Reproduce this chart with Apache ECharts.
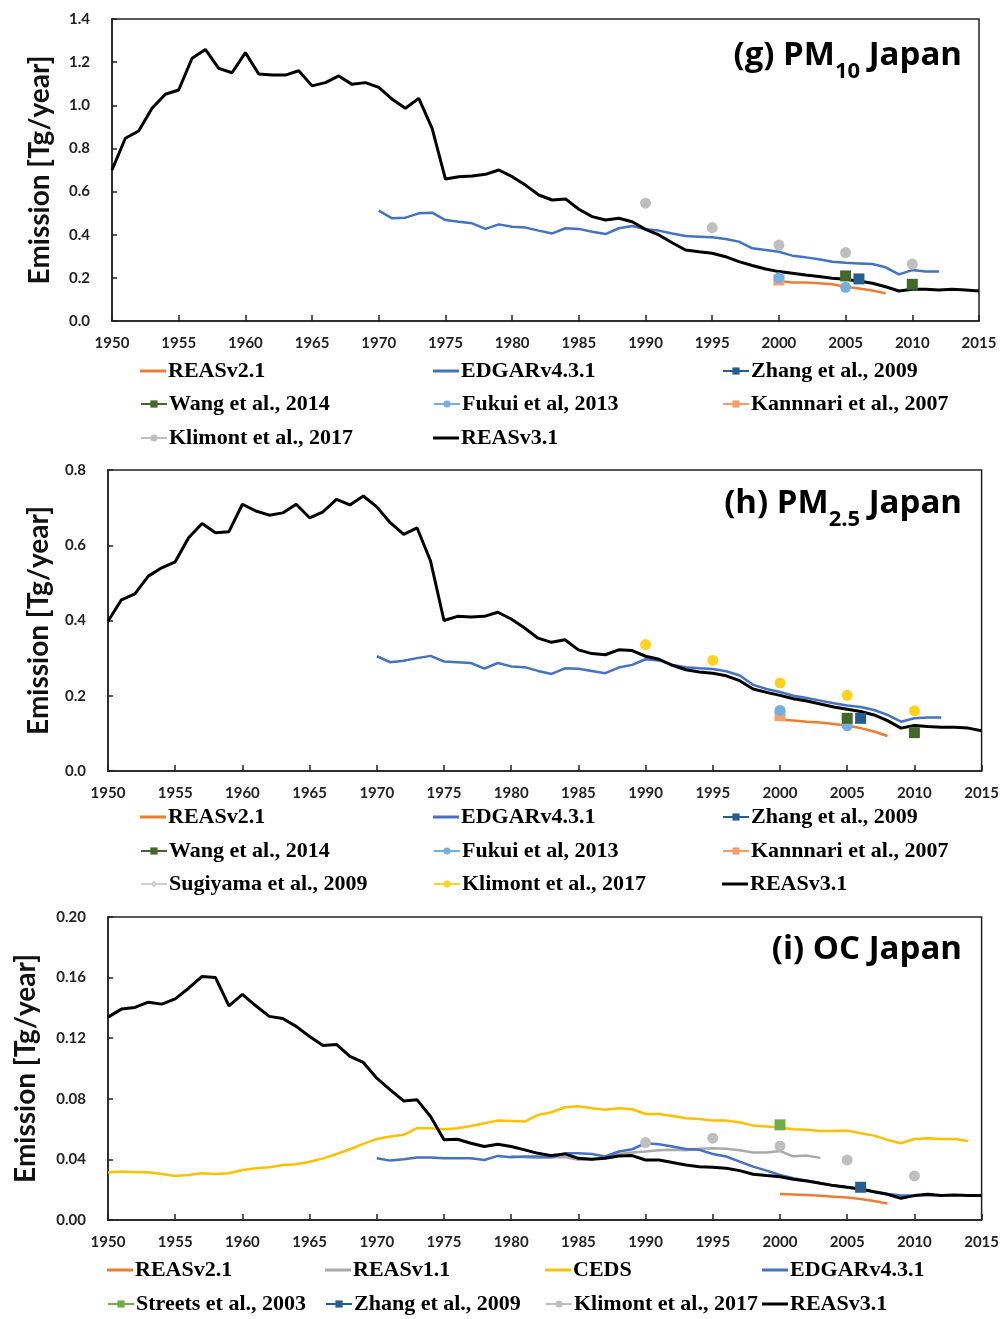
<!DOCTYPE html>
<html>
<head>
<meta charset="utf-8">
<script src="https://cdn.jsdelivr.net/npm/echarts@6/dist/echarts.min.js"></script>
<style>
  html, body { margin: 0; background: #fff; }
  #chart { width: 1002px; height: 1319px; }
</style>
</head>
<body>
<div id="chart"></div>
<script>
const span = (a, b) => { const r = []; for (let y = a; y <= b; y++) r.push(y); return r; };

// years
const yearsReas3 = span(1950, 2015);
const yearsEdgar = span(1970, 2012);
const yearsReas2 = span(2000, 2008);
const yearsCeds = span(1950, 2014);
const yearsReas1 = span(1980, 2003);
const yearsKlimont = [1990, 1995, 2000, 2005, 2010];

// (g) PM10
const pm10Reas3 = [
  0.70, 0.847, 0.881, 0.986, 1.051, 1.071, 1.218, 1.259, 1.171, 1.151,
  1.244, 1.145, 1.14, 1.14, 1.16, 1.09, 1.105, 1.136, 1.097, 1.105,
  1.083, 1.028, 0.986, 1.032, 0.893, 0.658, 0.669, 0.672, 0.68, 0.70,
  0.669, 0.63, 0.584, 0.561, 0.566, 0.518, 0.484, 0.468, 0.476, 0.46,
  0.425, 0.399, 0.363, 0.329, 0.321, 0.314, 0.298, 0.275, 0.257, 0.241,
  0.229, 0.221, 0.213, 0.206, 0.198, 0.193, 0.185, 0.175, 0.159, 0.139,
  0.147, 0.147, 0.144, 0.147, 0.144, 0.139
];
const pm10Edgar = [
  0.512, 0.476, 0.479, 0.499, 0.502, 0.468, 0.46, 0.453, 0.427, 0.448,
  0.437, 0.433, 0.419, 0.406, 0.43, 0.427, 0.414, 0.403, 0.43, 0.44,
  0.425, 0.419, 0.406, 0.394, 0.391, 0.388, 0.38, 0.368, 0.337, 0.329,
  0.321, 0.303, 0.295, 0.286, 0.275, 0.27, 0.267, 0.264, 0.249, 0.216,
  0.236, 0.229, 0.229
];
const pm10Reas2 = [0.185, 0.179, 0.178, 0.175, 0.17, 0.159, 0.151, 0.141, 0.128];
const pm10Klimont = [0.546, 0.433, 0.352, 0.317, 0.264];
const pm10Zhang = { years: [2006], vals: [0.195] };
const pm10Wang = { years: [2005, 2010], vals: [0.209, 0.17] };
const pm10Fukui = { years: [2000, 2005], vals: [0.2, 0.156] };
const pm10Kannari = { years: [2000], vals: [0.19] };

// (h) PM2.5
const pm25Reas3 = [
  0.398, 0.455, 0.471, 0.518, 0.54, 0.556, 0.62, 0.658, 0.633, 0.636,
  0.709, 0.691, 0.68, 0.686, 0.709, 0.673, 0.689, 0.722, 0.707, 0.731,
  0.702, 0.66, 0.629, 0.646, 0.558, 0.40, 0.411, 0.409, 0.411, 0.422,
  0.404, 0.38, 0.353, 0.342, 0.349, 0.322, 0.312, 0.309, 0.322, 0.32,
  0.305, 0.297, 0.281, 0.269, 0.263, 0.26, 0.253, 0.24, 0.218, 0.209,
  0.201, 0.192, 0.186, 0.178, 0.17, 0.164, 0.158, 0.149, 0.134, 0.114,
  0.121, 0.118, 0.116, 0.116, 0.114, 0.107
];
const pm25Edgar = [
  0.305, 0.289, 0.293, 0.30, 0.306, 0.291, 0.289, 0.287, 0.272, 0.287,
  0.278, 0.276, 0.266, 0.258, 0.273, 0.272, 0.266, 0.26, 0.275, 0.282,
  0.297, 0.294, 0.282, 0.276, 0.273, 0.271, 0.265, 0.254, 0.229, 0.218,
  0.21, 0.2, 0.194, 0.187, 0.18, 0.174, 0.17, 0.162, 0.149, 0.131,
  0.14, 0.142, 0.142
];
const pm25Reas2 = [0.136, 0.134, 0.131, 0.129, 0.125, 0.12, 0.114, 0.105, 0.093];
const pm25Klimont = [0.336, 0.294, 0.234, 0.201, 0.16];
const pm25Zhang = { years: [2006], vals: [0.14] };
const pm25Wang = { years: [2005, 2010], vals: [0.14, 0.102] };
const pm25Fukui = { years: [2000, 2005], vals: [0.161, 0.12] };
const pm25Kannari = { years: [2000], vals: [0.147] };
const pm25Sugiyama = { years: [], vals: [] };

// (i) OC
const ocReas3 = [
  0.1339, 0.1392, 0.1403, 0.1438, 0.1425, 0.146, 0.153, 0.1608, 0.160, 0.1414,
  0.149, 0.1414, 0.1344, 0.133, 0.1278, 0.1211, 0.1152, 0.1159, 0.108, 0.104,
  0.0936, 0.0859, 0.0786, 0.0793, 0.0683, 0.0529, 0.0533, 0.0507, 0.0485, 0.050,
  0.0485, 0.0463, 0.044, 0.0425, 0.0436, 0.0407, 0.0401, 0.0407, 0.0423, 0.0425,
  0.0396, 0.0396, 0.0379, 0.0363, 0.0352, 0.0348, 0.0341, 0.0326, 0.0302, 0.0293,
  0.0286, 0.0269, 0.0258, 0.0242, 0.0227, 0.0216, 0.0205, 0.0187, 0.017, 0.0143,
  0.0161, 0.017, 0.0161, 0.0165, 0.0161, 0.0161
];
const ocCeds = [
  0.0313, 0.032, 0.0315, 0.0315, 0.0304, 0.0291, 0.0297, 0.0308, 0.0304, 0.0308,
  0.033, 0.0341, 0.0348, 0.0363, 0.0368, 0.0385, 0.0407, 0.0436, 0.0467, 0.0502,
  0.0535, 0.0551, 0.0562, 0.0606, 0.0606, 0.0599, 0.0606, 0.0621, 0.0639, 0.0656,
  0.0654, 0.065, 0.0694, 0.0711, 0.0744, 0.0751, 0.0738, 0.0727, 0.0738, 0.0731,
  0.07, 0.07, 0.0687, 0.0672, 0.0667, 0.0656, 0.0656, 0.0645, 0.0623, 0.0617,
  0.061, 0.0599, 0.0595, 0.0588, 0.0588, 0.059, 0.0573, 0.0557, 0.0529, 0.0507,
  0.0535, 0.054, 0.0535, 0.0535, 0.0522
];
const ocEdgar = [
  0.0407, 0.0392, 0.0401, 0.0412, 0.0412, 0.0407, 0.0407, 0.0407, 0.0396, 0.0423,
  0.0414, 0.0419, 0.0419, 0.0414, 0.044, 0.044, 0.0436, 0.0419, 0.0452, 0.0467,
  0.0507, 0.05, 0.0485, 0.0469, 0.0463, 0.0436, 0.0419, 0.0385, 0.0352, 0.0326,
  0.0297, 0.0275, 0.026, 0.0242, 0.0227, 0.0216, 0.0203, 0.0187, 0.0172, 0.0161,
  0.0161, 0.0165, 0.0161
];
const ocReas1 = [
  0.042, 0.0415, 0.041, 0.0415, 0.0415, 0.0398, 0.040, 0.0415, 0.0435, 0.0445,
  0.0452, 0.046, 0.0463, 0.046, 0.047, 0.0474, 0.047, 0.046, 0.0445, 0.0445,
  0.0455, 0.042, 0.0425, 0.041
];
const ocReas2 = [0.0172, 0.0169, 0.0165, 0.016, 0.0154, 0.0148, 0.0138, 0.0125, 0.0108];
const ocKlimont = [0.0511, 0.054, 0.0489, 0.0396, 0.0291];
const ocStreets = { years: [2000], vals: [0.0628] };
const ocZhang = { years: [2006], vals: [0.0216] };

// legend order per panel
const legendG = ['REASv2.1', 'EDGARv4.3.1', 'Zhang et al., 2009', 'Wang et al., 2014', 'Fukui et al, 2013',
  'Kannnari et al., 2007', 'Klimont et al., 2017', 'REASv3.1'];
const legendH = ['REASv2.1', 'EDGARv4.3.1', 'Zhang et al., 2009', 'Wang et al., 2014', 'Fukui et al, 2013',
  'Kannnari et al., 2007', 'Sugiyama et al., 2009', 'Klimont et al., 2017', 'REASv3.1'];
const legendI = ['REASv2.1', 'REASv1.1', 'CEDS', 'EDGARv4.3.1',
  'Streets et al., 2003', 'Zhang et al., 2009', 'Klimont et al., 2017', 'REASv3.1'];

const COL = {
  reas2: '#ED7D31', edgar: '#4472C4', zhang: '#255E91', wang: '#43682B',
  fukui: '#75AEE0', kannari: '#F4A06A', gray: '#BFBFBF', yellow: '#FFD21F',
  reas3: '#000000', reas1: '#A9A9A9', ceds: '#FFC000', streets: '#70AD47', sugiyama: '#D0D0D0'
};

const panels = ['g', 'h', 'i'];

function curve(p, name, years, vals, color, width) {
  const k = panels.indexOf(p);
  return {
    type: 'line', name: p + '|' + name, xAxisIndex: k, yAxisIndex: k,
    data: years.map((y, i) => [y, vals[i]]),
    symbol: 'none', lineStyle: { color: color, width: width || 2.5 }, itemStyle: { color: color },
    silent: true
  };
}

function marks(p, name, years, vals, color, symbol) {
  const k = panels.indexOf(p);
  const data = [];
  years.forEach((y, i) => { if (i) data.push([y - 0.5, null]); data.push([y, vals[i]]); });
  return {
    type: 'line', name: p + '|' + name, xAxisIndex: k, yAxisIndex: k, data: data,
    symbol: symbol, symbolSize: 11, showSymbol: true, connectNulls: false,
    lineStyle: { color: color, width: 2.5 }, itemStyle: { color: color }, silent: true
  };
}

const series = [
  curve('g', 'REASv2.1', yearsReas2, pm10Reas2, COL.reas2),
  curve('g', 'EDGARv4.3.1', yearsEdgar, pm10Edgar, COL.edgar),
  marks('g', 'Klimont et al., 2017', yearsKlimont, pm10Klimont, COL.gray, 'circle'),
  marks('g', 'Kannnari et al., 2007', pm10Kannari.years, pm10Kannari.vals, COL.kannari, 'rect'),
  marks('g', 'Fukui et al, 2013', pm10Fukui.years, pm10Fukui.vals, COL.fukui, 'circle'),
  curve('g', 'REASv3.1', yearsReas3, pm10Reas3, COL.reas3, 3),
  marks('g', 'Zhang et al., 2009', pm10Zhang.years, pm10Zhang.vals, COL.zhang, 'rect'),
  marks('g', 'Wang et al., 2014', pm10Wang.years, pm10Wang.vals, COL.wang, 'rect'),

  curve('h', 'REASv2.1', yearsReas2, pm25Reas2, COL.reas2),
  curve('h', 'EDGARv4.3.1', yearsEdgar, pm25Edgar, COL.edgar),
  marks('h', 'Sugiyama et al., 2009', pm25Sugiyama.years, pm25Sugiyama.vals, COL.sugiyama, 'diamond'),
  marks('h', 'Klimont et al., 2017', yearsKlimont, pm25Klimont, COL.yellow, 'circle'),
  marks('h', 'Kannnari et al., 2007', pm25Kannari.years, pm25Kannari.vals, COL.kannari, 'rect'),
  marks('h', 'Fukui et al, 2013', pm25Fukui.years, pm25Fukui.vals, COL.fukui, 'circle'),
  curve('h', 'REASv3.1', yearsReas3, pm25Reas3, COL.reas3, 3),
  marks('h', 'Zhang et al., 2009', pm25Zhang.years, pm25Zhang.vals, COL.zhang, 'rect'),
  marks('h', 'Wang et al., 2014', pm25Wang.years, pm25Wang.vals, COL.wang, 'rect'),

  curve('i', 'REASv2.1', yearsReas2, ocReas2, COL.reas2),
  curve('i', 'REASv1.1', yearsReas1, ocReas1, COL.reas1),
  curve('i', 'CEDS', yearsCeds, ocCeds, COL.ceds),
  curve('i', 'EDGARv4.3.1', yearsEdgar, ocEdgar, COL.edgar),
  marks('i', 'Klimont et al., 2017', yearsKlimont, ocKlimont, COL.gray, 'circle'),
  curve('i', 'REASv3.1', yearsReas3, ocReas3, COL.reas3, 3),
  marks('i', 'Streets et al., 2003', ocStreets.years, ocStreets.vals, COL.streets, 'rect'),
  marks('i', 'Zhang et al., 2009', ocZhang.years, ocZhang.vals, COL.zhang, 'rect')
];

// line-only entries get a plain bar icon in the legend
const lineOnly = new Set(series.filter(s => s.symbol === 'none').map(s => s.name));

// legends: one component per item so the columns line up
const legends = [];
function addLegend(p, names, cols, rows) {
  names.forEach((n, i) => {
    const key = p + '|' + n;
    const plain = lineOnly.has(key);
    legends.push({
      data: [key],
      left: cols[i % cols.length], top: rows[Math.floor(i / cols.length)] - 12,
      padding: 0, itemWidth: 26, itemHeight: plain ? 3 : 9, itemGap: 0, selectedMode: false,
      icon: plain ? 'rect' : undefined,
      formatter: s => s.split('|')[1],
      textStyle: { fontFamily: 'Liberation Serif', fontWeight: 'bold', fontSize: 22, color: '#000', padding: [0, 0, 0, -3] }
    });
  });
}
addLegend('g', legendG, [140, 433, 722], [372, 405, 439]);
addLegend('h', legendH, [140, 433, 722], [818, 852, 885]);
addLegend('i', legendI, [107, 325, 545, 762], [1271, 1305]);

const grids = [
  { left: 112, right: 23, top: 19, height: 302 },
  { left: 108, right: 17, top: 470, height: 301 },
  { left: 108, right: 20, top: 917, height: 303 }
].map(g => Object.assign(g, { show: true, borderColor: '#222', borderWidth: 1.5 }));

const tickFont = { fontFamily: 'Lato', fontWeight: 'bold', fontSize: 15, color: '#222' };

const xAxes = [0, 1, 2].map(k => ({
  type: 'value', gridIndex: k, min: 1950, max: 2015, interval: 5,
  axisLine: { lineStyle: { color: '#222', width: 1.5 } },
  axisTick: { inside: true, length: 6, lineStyle: { color: '#222', width: 1.5 } },
  axisLabel: Object.assign({ margin: 15, formatter: v => String(v) }, tickFont),
  splitLine: { show: false }
}));

const yRanges = [
  { max: 1.4, interval: 0.2, digits: 1, gap: 58 },
  { max: 0.8, interval: 0.2, digits: 1, gap: 55 },
  { max: 0.2, interval: 0.04, digits: 2, gap: 68 }
];
const yAxes = yRanges.map((r, k) => ({
  type: 'value', gridIndex: k, min: 0, max: r.max, interval: r.interval,
  name: 'Emission [Tg/year]', nameLocation: 'middle', nameGap: r.gap,
  nameTextStyle: { fontFamily: 'Lato', fontWeight: 'bold', fontSize: 28, color: '#111' },
  axisLine: { show: true, lineStyle: { color: '#222', width: 1.5 } },
  axisTick: { show: true, inside: true, length: 5, lineStyle: { color: '#222', width: 1.5 } },
  axisLabel: Object.assign({ margin: 22, formatter: v => v.toFixed(r.digits) }, tickFont),
  splitLine: { show: false }
}));

const titleRich = {
  a: { fontFamily: 'Open Sans', fontWeight: 'bold', fontSize: 33, color: '#000', lineHeight: 42, verticalAlign: 'top' },
  s: { fontFamily: 'Open Sans', fontWeight: 'bold', fontSize: 22, color: '#000', lineHeight: 22, verticalAlign: 'top', padding: [22, 0, 0, 0] }
};
const titles = [
  { text: '{a|(g) PM}{s|10}{a| Japan}', top: 39 },
  { text: '{a|(h) PM}{s|2.5}{a| Japan}', top: 487 },
  { text: '{a|(i) OC Japan}', top: 933 }
].map(t => ({ text: t.text, right: 40, top: t.top, padding: 0, textStyle: { rich: titleRich } }));

const chart = echarts.init(document.getElementById('chart'));
chart.setOption({
  backgroundColor: '#fff',
  animation: false,
  title: titles,
  legend: legends,
  grid: grids,
  xAxis: xAxes,
  yAxis: yAxes,
  series: series
});
</script>
</body>
</html>
